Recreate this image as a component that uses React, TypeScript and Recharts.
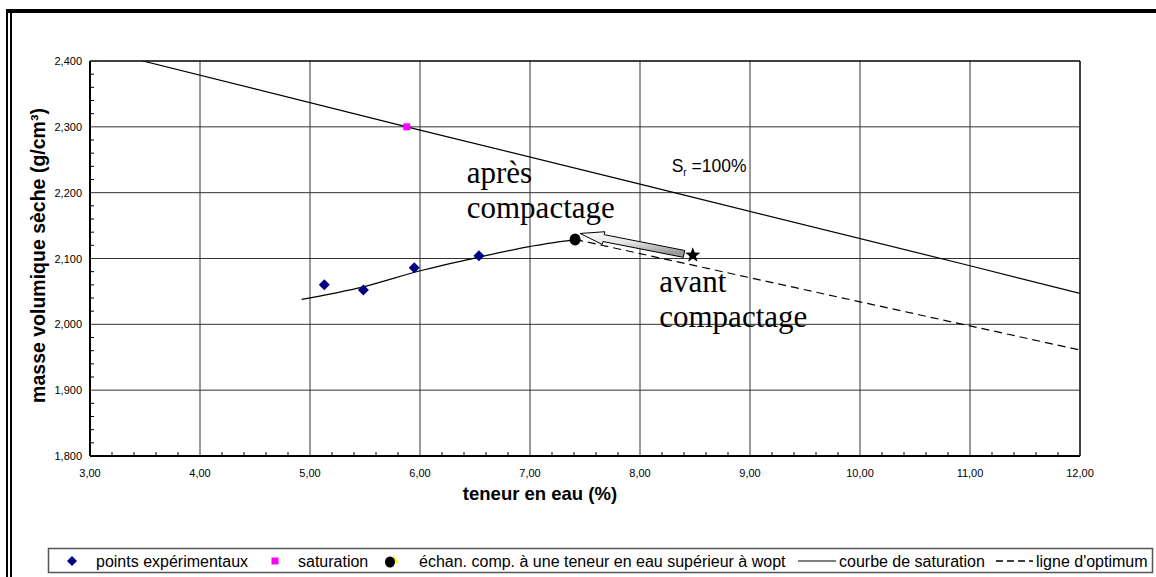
import React from 'react';
import { ComposedChart, XAxis, YAxis, Scatter, ReferenceLine, ReferenceDot } from 'recharts';

// ---- data ----
const xMajorTicks = [3, 4, 5, 6, 7, 8, 9, 10, 11, 12];
const yMajorTicks = [1.8, 1.9, 2.0, 2.1, 2.2, 2.3, 2.4];

const pointsExperimentaux = [
  { x: 5.13, y: 2.06 },
  { x: 5.485, y: 2.052 },
  { x: 5.948, y: 2.086 },
  { x: 6.536, y: 2.104 },
];
const saturationPoint = [{ x: 5.88, y: 2.3 }];
const echantillonApres = [{ x: 7.41, y: 2.129 }];
const echantillonAvant = [{ x: 8.48, y: 2.105 }];
const courbeSaturation = [
  { x: 3.48, y: 2.4 },
  { x: 5.88, y: 2.3 },
  { x: 8.0, y: 2.213 },
  { x: 11.0, y: 2.089 },
  { x: 12.0, y: 2.047 },
];
const courbeCompactage = [
  { x: 4.924, y: 2.038 },
  { x: 5.485, y: 2.057 },
  { x: 5.994, y: 2.081 },
  { x: 6.536, y: 2.102 },
  { x: 6.994, y: 2.118 },
  { x: 7.242, y: 2.125 },
  { x: 7.409, y: 2.128 },
];
const ligneOptimum = [
  { x: 7.41, y: 2.129 },
  { x: 12.0, y: 1.961 },
];
const arrowTail = { x: 8.4, y: 2.107 };
const arrowTip = { x: 7.455, y: 2.138 };
const labelApres = { x: 6.425, y: 2.2147 };
const labelAvant = { x: 8.175, y: 2.0496 };
const labelSr = { x: 8.288, y: 2.2318 };

const legendLabels = [
  'points expérimentaux',
  'saturation',
  'échan. comp. à une teneur en eau supérieur à wopt',
  'courbe de saturation',
  "ligne d'optimum",
];

// ---- helpers ----
const subdivide = (majors: number[], n: number) => {
  const out: number[] = [];
  for (let i = 0; i < majors.length - 1; i++) {
    const a = majors[i];
    const b = majors[i + 1];
    for (let k = 0; k < n; k++) out.push(+(a + ((b - a) * k) / n).toFixed(5));
  }
  out.push(majors[majors.length - 1]);
  return out;
};
const xAllTicks = subdivide(xMajorTicks, 5);
const yAllTicks = subdivide(yMajorTicks, 5);
const isMajor = (majors: number[], v: number) => majors.some((m) => Math.abs(m - v) < 1e-6);

const SANS = "Arial, 'Liberation Sans', sans-serif";
const SERIF = "'Liberation Serif', 'Times New Roman', 'DejaVu Serif', serif";
const X_TICK_MARGIN = 13;
const Y_TICK_MARGIN = 8;

const XTick = (props: any) => {
  const { x, y, payload } = props;
  const v = payload.value;
  const axisY = y - X_TICK_MARGIN;
  if (isMajor(xMajorTicks, v)) {
    return (
      <text x={x} y={axisY + 17} textAnchor="middle" dominantBaseline="central" fontSize={11} fontFamily={SANS} fill="#000">
        {v.toFixed(2).replace('.', ',')}
      </text>
    );
  }
  return <line x1={x} x2={x} y1={axisY} y2={axisY - 4} stroke="#000" strokeWidth={1} />;
};

const YTick = (props: any) => {
  const { x, y, payload } = props;
  const v = payload.value;
  const axisX = x + Y_TICK_MARGIN;
  if (isMajor(yMajorTicks, v)) {
    return (
      <text x={x} y={y} textAnchor="end" dominantBaseline="central" fontSize={11} fontFamily={SANS} fill="#000">
        {v.toFixed(3).replace('.', ',')}
      </text>
    );
  }
  return <line x1={axisX} x2={axisX + 4} y1={y} y2={y} stroke="#000" strokeWidth={1} />;
};

const Diamond = (props: any) => {
  const { cx, cy } = props;
  const r = 5.5;
  return <polygon points={`${cx},${cy - r} ${cx + r},${cy} ${cx},${cy + r} ${cx - r},${cy}`} fill="#000080" />;
};
const Square = (props: any) => {
  const { cx, cy } = props;
  return <rect x={cx - 3.5} y={cy - 3.5} width={7} height={7} fill="#ff00ff" />;
};
const Dot = (props: any) => {
  const { cx, cy } = props;
  return <ellipse cx={cx} cy={cy} rx={5.5} ry={6} fill="#000" />;
};
const Star = (props: any) => {
  const { cx, cy } = props;
  const R = 8;
  const r = 3.3;
  const pts: string[] = [];
  for (let i = 0; i < 10; i++) {
    const a = -Math.PI / 2 + (i * Math.PI) / 5;
    const rad = i % 2 === 0 ? R : r;
    pts.push(`${cx + rad * Math.cos(a)},${cy + rad * Math.sin(a)}`);
  }
  return <polygon points={pts.join(' ')} fill="#000" />;
};
const NoShape = () => <g />;

const ArrowShape = (props: any) => {
  const { x1, y1, x2, y2 } = props;
  const dx = x2 - x1;
  const dy = y2 - y1;
  const L = Math.hypot(dx, dy) || 1;
  const ux = dx / L;
  const uy = dy / L;
  const nx = -uy;
  const ny = ux;
  const bw = 3.5;
  const hw = 6.5;
  const hl = 24;
  const neckX = x2 - ux * hl;
  const neckY = y2 - uy * hl;
  const pts = [
    [x1 + nx * bw, y1 + ny * bw],
    [neckX + nx * bw, neckY + ny * bw],
    [neckX + nx * hw, neckY + ny * hw],
    [x2, y2],
    [neckX - nx * hw, neckY - ny * hw],
    [neckX - nx * bw, neckY - ny * bw],
    [x1 - nx * bw, y1 - ny * bw],
  ]
    .map((p) => `${p[0]},${p[1]}`)
    .join(' ');
  return (
    <g>
      <defs>
        <linearGradient id="arrowGrad" x1="0" y1="0" x2="0.3" y2="1">
          <stop offset="0" stopColor="#ffffff" />
          <stop offset="0.5" stopColor="#e6e6e6" />
          <stop offset="1" stopColor="#9a9a9a" />
        </linearGradient>
      </defs>
      <polygon points={pts} fill="url(#arrowGrad)" stroke="#000" strokeWidth={1} />
    </g>
  );
};

const TwoLineText = (lines: string[]) => (props: any) => {
  const { cx, cy } = props;
  return (
    <text x={cx} y={cy} fontFamily={SERIF} fontSize={31} fill="#000">
      <tspan x={cx} dy={0}>{lines[0]}</tspan>
      <tspan x={cx} dy={35}>{lines[1]}</tspan>
    </text>
  );
};
const SrText = (props: any) => {
  const { cx, cy } = props;
  return (
    <text x={cx} y={cy} fontFamily={SANS} fontSize={17.5} fill="#000">
      S<tspan dy={4} fontSize={10}>r</tspan>
      <tspan dy={-4}> =100%</tspan>
    </text>
  );
};

const YLabel = (props: any) => {
  const vb = props.viewBox || {};
  const x = vb.x + 8;
  const y = vb.y + vb.height / 2 - 3;
  return (
    <text
      x={x}
      y={y}
      transform={`rotate(-90, ${x}, ${y})`}
      textAnchor="middle"
      dominantBaseline="central"
      fontFamily={SANS}
      fontWeight="bold"
      fontSize={19.5}
      fill="#000"
    >
      masse volumique sèche (g/cm³)
    </text>
  );
};
const XLabel = (props: any) => {
  const vb = props.viewBox || {};
  const x = vb.x + vb.width * 0.4545;
  const y = vb.y + 37;
  return (
    <text x={x} y={y} textAnchor="middle" dominantBaseline="central" fontFamily={SANS} fontWeight="bold" fontSize={18.5} fill="#000">
      teneur en eau (%)
    </text>
  );
};

const GRID = '#333';

const Legend = () => (
  <svg width={1156} height={577} style={{ position: 'absolute', left: 0, top: 0, pointerEvents: 'none' }}>
    <rect x={6} y={9} width={1150} height={4} fill="#000" />
    <rect x={6} y={9} width={2} height={568} fill="#000" />
    <rect x={10} y={9} width={2} height={568} fill="#000" />
    <rect x={48.5} y={548.5} width={1104} height={24} fill="#fff" stroke="#555" strokeWidth={1.5} />
    <g fontFamily={SANS} fontSize={16} fill="#000">
      <polygon points="72,556 77,561 72,566 67,561" fill="#000080" />
      <text x={96} y={566.5}>{legendLabels[0]}</text>
      <rect x={271.5} y={557.5} width={7} height={7} fill="#ff00ff" />
      <text x={298} y={566.5}>{legendLabels[1]}</text>
      <polygon points="393,555 399,563 392,563" fill="#ffff00" />
      <ellipse cx={390} cy={562} rx={5} ry={5.5} fill="#000" />
      <text x={419} y={566.5}>{legendLabels[2]}</text>
      <line x1={798} x2={836} y1={561} y2={561} stroke="#000" strokeWidth={1} />
      <text x={839} y={566.5}>{legendLabels[3]}</text>
      <line x1={996} x2={1033} y1={561} y2={561} stroke="#000" strokeWidth={1.5} strokeDasharray="7 4" />
      <text x={1036} y={566.5}>{legendLabels[4]}</text>
    </g>
  </svg>
);

export default function App() {
  return (
    <div style={{ position: 'absolute', left: 0, top: 0, width: 1156, height: 577, background: '#fff' }}>
      <ComposedChart width={1156} height={577} margin={{ top: 61, right: 76, bottom: 76, left: 30 }}>
        <XAxis
          type="number"
          dataKey="x"
          domain={[3, 12]}
          ticks={xAllTicks}
          interval={0}
          allowDataOverflow
          height={45}
          tickSize={0}
          tickMargin={X_TICK_MARGIN}
          tickLine={false}
          axisLine={{ stroke: '#000', strokeWidth: 2 }}
          tick={<XTick />}
          label={<XLabel />}
        />
        <YAxis
          type="number"
          dataKey="y"
          domain={[1.8, 2.4]}
          ticks={yAllTicks}
          interval={0}
          allowDataOverflow
          width={60}
          tickSize={0}
          tickMargin={Y_TICK_MARGIN}
          tickLine={false}
          axisLine={{ stroke: '#000', strokeWidth: 2 }}
          tick={<YTick />}
          label={<YLabel />}
        />
        {xMajorTicks.slice(1).map((v) => (
          <ReferenceLine key={'vx' + v} x={v} stroke={v === 12 ? '#000' : GRID} strokeWidth={v === 12 ? 1.5 : 1} />
        ))}
        {yMajorTicks.slice(1).map((v) => (
          <ReferenceLine key={'hy' + v} y={v} stroke={v === 2.4 ? '#000' : GRID} strokeWidth={v === 2.4 ? 1.5 : 1} />
        ))}
        <Scatter data={courbeSaturation} line={{ stroke: '#000', strokeWidth: 1.2 }} shape={NoShape} isAnimationActive={false} />
        <Scatter
          data={courbeCompactage}
          line={{ stroke: '#000', strokeWidth: 1.2 }}
          lineJointType="monotoneX"
          shape={NoShape}
          isAnimationActive={false}
        />
        <Scatter
          data={ligneOptimum}
          line={{ stroke: '#000', strokeWidth: 1.2, strokeDasharray: '8 5' }}
          shape={NoShape}
          isAnimationActive={false}
        />
        <ReferenceLine segment={[arrowTail, arrowTip]} shape={ArrowShape} />
        <Scatter data={pointsExperimentaux} shape={Diamond} isAnimationActive={false} />
        <Scatter data={saturationPoint} shape={Square} isAnimationActive={false} />
        <Scatter data={echantillonApres} shape={Dot} isAnimationActive={false} />
        <Scatter data={echantillonAvant} shape={Star} isAnimationActive={false} />
        <ReferenceDot x={labelApres.x} y={labelApres.y} r={0} shape={TwoLineText(['après', 'compactage'])} />
        <ReferenceDot x={labelAvant.x} y={labelAvant.y} r={0} shape={TwoLineText(['avant', 'compactage'])} />
        <ReferenceDot x={labelSr.x} y={labelSr.y} r={0} shape={SrText} />
      </ComposedChart>
      <Legend />
    </div>
  );
}
